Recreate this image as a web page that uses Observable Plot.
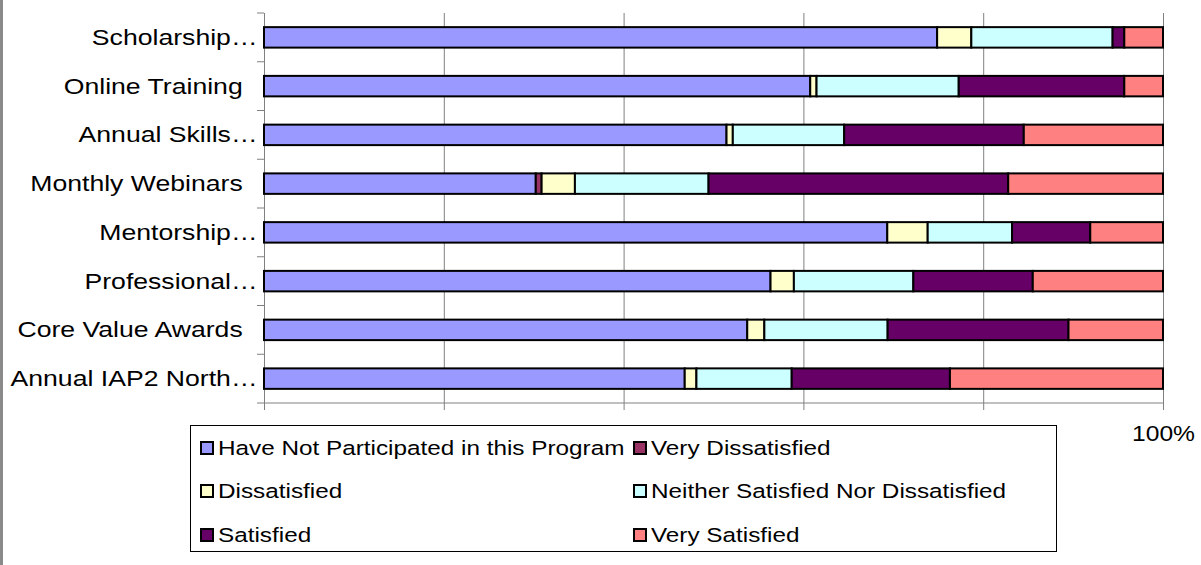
<!DOCTYPE html>
<html><head><meta charset="utf-8">
<script src="https://cdn.jsdelivr.net/npm/d3@7"></script>
<script src="https://cdn.jsdelivr.net/npm/@observablehq/plot@0.6"></script>
<style>
html,body{margin:0;padding:0;background:#fff;overflow:hidden;}
#wrap{position:relative;width:1201px;height:565px;overflow:hidden;font-family:"Liberation Sans",Arial,sans-serif;background:#fff;}
#wrap svg{position:absolute;left:0;top:0;}
#wrap svg text{white-space:pre;}
#edge{position:absolute;left:0;top:0;width:3px;height:565px;background:#8a8a8a;}
#legend{position:absolute;left:190px;top:425px;width:856px;height:125px;padding-left:9px;border:1px solid #000;background:#fff;display:grid;grid-template-columns:433px auto;grid-template-rows:repeat(3,43.5px);}
.item{display:flex;align-items:center;white-space:nowrap;}
.sw{width:14px;height:14px;box-sizing:border-box;border:2px solid #000;margin-right:4px;flex:none;}
.lab{font-size:20.5px;display:inline-block;transform:scaleX(1.185);transform-origin:0 50%;color:#000;}
</style></head><body><div id="wrap"><div id="edge"></div></div>
<script>
const categories = ["Scholarship…", "Online Training  ", "Annual Skills…", "Monthly Webinars  ", "Mentorship…", "Professional…", "Core Value Awards  ", "Annual IAP2 North…"];
const series = ["Have Not Participated in this Program", "Very Dissatisfied", "Dissatisfied", "Neither Satisfied Nor Dissatisfied", "Satisfied", "Very Satisfied"];
const colors = ["#9999FF", "#993366", "#FFFFCC", "#CCFFFF", "#660066", "#FF8080"];
const notParticipated = [74.8, 60.7, 51.5, 30.2, 69.4, 56.4, 53.7, 46.8];
const veryDissatisfied = [0, 0, 0, 0.65, 0, 0, 0, 0];
const dissatisfied = [3.8, 0.7, 0.7, 3.7, 4.5, 2.6, 1.9, 1.3];
const neither = [15.7, 15.8, 12.4, 14.85, 9.4, 13.3, 13.7, 10.6];
const satisfied = [1.3, 18.4, 20.0, 33.3, 8.7, 13.3, 20.1, 17.6];
const verySatisfied = [4.3, 4.3, 15.5, 17.2, 8.1, 14.5, 10.5, 23.7];
const xTicks = [0, 0.2, 0.4, 0.6, 0.8, 1];

const seriesValues = [notParticipated, veryDissatisfied, dissatisfied, neither, satisfied, verySatisfied];
const table = [];
seriesValues.forEach((vals, s) => vals.forEach((v, i) => {
  if (v > 0) table.push({category: categories[i], series: series[s], value: v});
}));

const plot = Plot.plot({
  width: 1201, height: 565,
  marginLeft: 264, marginRight: 38, marginTop: 13, marginBottom: 162,
  style: {fontFamily: '"Liberation Sans", Arial, sans-serif', fontSize: "22px", color: "#000", background: "transparent"},
  x: {domain: [0, 1]},
  y: {domain: categories, paddingInner: 0.58, paddingOuter: 0.29, align: 0.5, round: false},
  color: {domain: series, range: colors},
  marks: [
    Plot.gridX(xTicks, {stroke: "#808080", strokeOpacity: 1, strokeWidth: 1}),
    Plot.ruleX([0], {stroke: "#808080", strokeWidth: 1}),
    Plot.barX(table, Plot.stackX({x: "value", y: "category", fill: "series", z: "series", order: series, offset: "normalize", stroke: "#000", strokeWidth: 2})),
    Plot.axisY({tickSize: 0, tickPadding: 7, fontSize: 22, label: null}),
    Plot.axisX({ticks: xTicks, tickFormat: d3.format(".0%"), tickSize: 7, tickPadding: 15, stroke: "#808080", fontSize: 22, label: null})
  ]
});

const wrap = document.getElementById("wrap");
wrap.insertBefore(plot, wrap.firstChild);

const svg = d3.select(plot);
const ys = plot.scale("y"), xs = plot.scale("x");
const step = ys.apply(categories[1]) - ys.apply(categories[0]);
const half = (step - ys.bandwidth) / 2;
const bounds = categories.map(c => ys.apply(c) - half);
bounds.push(ys.apply(categories[categories.length - 1]) + ys.bandwidth + half);
const x0 = xs.apply(0), x1 = xs.apply(1);
const g = svg.append("g").attr("stroke", "#808080").attr("stroke-width", 1);
g.selectAll("line.tk").data(bounds).join("line").attr("class", "tk")
  .attr("x1", x0 - 7).attr("x2", x0).attr("y1", d => d).attr("y2", d => d);
g.append("line").attr("x1", x0).attr("x2", x1)
  .attr("y1", bounds[bounds.length - 1]).attr("y2", bounds[bounds.length - 1]);

svg.selectAll('g[aria-label="y-axis tick label"] text').attr("transform", function () {
  return (this.getAttribute("transform") || "") + " scale(1.21,1)";
});
svg.selectAll('g[aria-label="x-axis tick label"] text').attr("transform", function () {
  return (this.getAttribute("transform") || "") + " scale(1.12,1)";
});

const legend = document.createElement("div");
legend.id = "legend";
series.forEach((s, i) => {
  const item = document.createElement("div");
  item.className = "item";
  const sw = document.createElement("span");
  sw.className = "sw";
  sw.style.background = colors[i];
  const lab = document.createElement("span");
  lab.className = "lab";
  lab.textContent = s;
  item.appendChild(sw);
  item.appendChild(lab);
  legend.appendChild(item);
});
wrap.appendChild(legend);
</script>
</body></html>
